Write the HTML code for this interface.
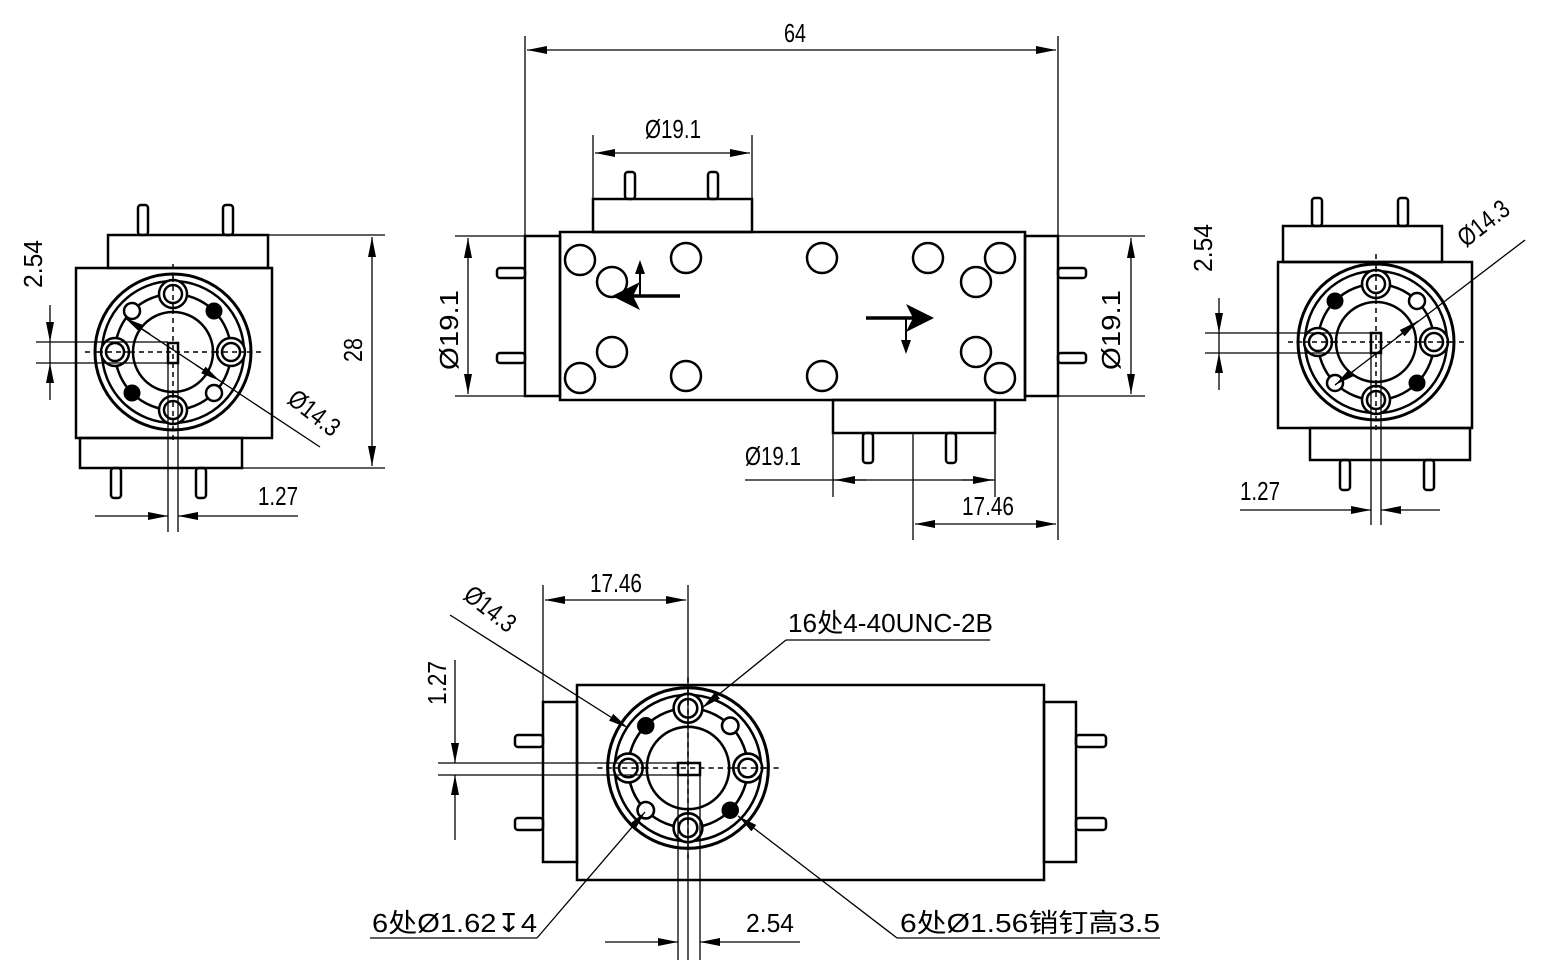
<!DOCTYPE html>
<html><head><meta charset="utf-8"><style>
html,body{margin:0;padding:0;background:#fff}
svg{display:block}
text{font-family:"Liberation Sans","Noto Sans CJK SC",sans-serif;font-size:26px;fill:#000}
</style></head><body>
<svg width="1553" height="970" viewBox="0 0 1553 970" xmlns="http://www.w3.org/2000/svg">
<defs>
<marker id="a" viewBox="0 0 20 8" refX="20" refY="4" markerWidth="20" markerHeight="8" markerUnits="userSpaceOnUse" orient="auto-start-reverse"><path d="M0,0L20,4L0,8z" fill="#000"/></marker>
<g id="fl" stroke="#000">
<circle r="78" stroke-width="3" fill="#fff"/><circle r="71" stroke-width="2.5" fill="none"/>
<circle r="40" stroke-width="2.5" fill="none"/>
<circle r="58" stroke-width="2.5" fill="none"/>
<g stroke-width="1.5" stroke-dasharray="5 4" fill="none"><line x1="0" y1="-88" x2="0" y2="88"/><line x1="-88" y1="0" x2="88" y2="0"/></g>
<g stroke-width="2.5" fill="#fff"><circle cx="0" cy="-58" r="14"/><circle cx="0" cy="-58" r="9"/>
<circle cx="0" cy="58" r="14"/><circle cx="0" cy="58" r="9"/>
<circle cx="-58" cy="0" r="14"/><circle cx="-58" cy="0" r="9"/>
<circle cx="58" cy="0" r="14"/><circle cx="58" cy="0" r="9"/>
<circle cx="-41" cy="-41" r="8"/><circle cx="41" cy="41" r="8"/></g>
<circle cx="41" cy="-41" r="8" fill="#000" stroke-width="1"/><circle cx="-41" cy="41" r="8" fill="#000" stroke-width="1"/>
<g stroke-width="1.5" stroke-dasharray="5 4" fill="none"><line x1="0" y1="-75" x2="0" y2="-41"/><line x1="0" y1="41" x2="0" y2="75"/><line x1="-75" y1="0" x2="-41" y2="0"/><line x1="41" y1="0" x2="75" y2="0"/></g>
</g>
</defs>
<g fill="none" stroke="#000" stroke-width="2.5">
<rect x="108" y="235" width="160" height="33"/>
<rect x="76" y="268" width="196" height="170"/>
<rect x="80" y="438" width="162" height="30"/>
<rect x="138" y="205" width="10" height="30" rx="3"/><rect x="223" y="205" width="10" height="30" rx="3"/>
<rect x="111" y="468" width="10" height="30" rx="3"/><rect x="196" y="468" width="10" height="30" rx="3"/>
<use href="#fl" x="173" y="352"/>
<rect x="168" y="343" width="10" height="20"/>
<rect x="560" y="232" width="465" height="168"/>
<rect x="525" y="236" width="35" height="160"/><rect x="1025" y="236" width="33" height="160"/>
<rect x="593" y="199" width="159" height="33"/><rect x="833" y="400" width="162" height="33"/>
<rect x="625" y="172" width="10" height="27" rx="3"/><rect x="708" y="172" width="10" height="27" rx="3"/>
<rect x="863" y="433" width="10" height="30" rx="3"/><rect x="946" y="433" width="10" height="30" rx="3"/>
<rect x="497" y="268" width="28" height="10" rx="3"/><rect x="497" y="353" width="28" height="10" rx="3"/>
<rect x="1058" y="268" width="28" height="10" rx="3"/><rect x="1058" y="353" width="28" height="10" rx="3"/>
<circle cx="580" cy="260" r="15"/><circle cx="686" cy="258" r="15"/><circle cx="822" cy="258" r="15"/><circle cx="928" cy="258" r="15"/><circle cx="1000" cy="258" r="15"/>
<circle cx="612" cy="282" r="15"/><circle cx="976" cy="282" r="15"/>
<circle cx="612" cy="352" r="15"/><circle cx="976" cy="352" r="15"/>
<circle cx="580" cy="378" r="15"/><circle cx="686" cy="376" r="15"/><circle cx="822" cy="376" r="15"/><circle cx="1000" cy="378" r="15"/>
<rect x="1283" y="226" width="159" height="36"/>
<rect x="1278" y="262" width="194" height="166"/>
<rect x="1310" y="428" width="160" height="32"/>
<rect x="1312" y="198" width="10" height="28" rx="3"/><rect x="1398" y="198" width="10" height="28" rx="3"/>
<rect x="1340" y="460" width="10" height="30" rx="3"/><rect x="1424" y="460" width="10" height="30" rx="3"/>
<use href="#fl" transform="translate(1376,342) scale(-1,1)"/>
<rect x="1371" y="333" width="10" height="20"/>
<rect x="577" y="685" width="467" height="195"/>
<rect x="543" y="702" width="34" height="160"/><rect x="1044" y="702" width="32" height="160"/>
<rect x="515" y="735" width="28" height="12" rx="3"/><rect x="515" y="818" width="28" height="12" rx="3"/>
<rect x="1076" y="735" width="30" height="12" rx="3"/><rect x="1076" y="818" width="30" height="12" rx="3"/>
<use href="#fl" transform="translate(688,768) scale(1.03) rotate(90)"/>
<rect x="678" y="763" width="22" height="12"/>
</g>
<g stroke="#000" stroke-width="3.5" fill="none">
<line x1="680" y1="296" x2="630" y2="296"/>
<line x1="866" y1="318" x2="915" y2="318"/>
</g>
<path d="M612,296 L640,282 L633,296 L640,310z" fill="#000"/>
<path d="M934,318 L906,304 L913,318 L906,332z" fill="#000"/>
<g stroke="#000" stroke-width="2" fill="none">
<line x1="640" y1="296" x2="640" y2="272"/>
<line x1="906" y1="318" x2="906" y2="342"/>
</g>
<path d="M640,260 L635,274 L645,274z" fill="#000"/>
<path d="M906,354 L901,340 L911,340z" fill="#000"/>
<g stroke="#000" stroke-width="1.3" fill="none">
<line x1="525" y1="36" x2="525" y2="236"/><line x1="1058" y1="36" x2="1058" y2="540"/>
<line x1="527" y1="50" x2="1056" y2="50" marker-start="url(#a)" marker-end="url(#a)"/>
<line x1="593" y1="135" x2="593" y2="199"/><line x1="752" y1="135" x2="752" y2="199"/>
<line x1="595" y1="153" x2="750" y2="153" marker-start="url(#a)" marker-end="url(#a)"/>
<line x1="455" y1="236" x2="525" y2="236"/><line x1="455" y1="396" x2="525" y2="396"/>
<line x1="468" y1="238" x2="468" y2="394" marker-start="url(#a)" marker-end="url(#a)"/>
<line x1="1058" y1="236" x2="1145" y2="236"/><line x1="1058" y1="396" x2="1145" y2="396"/>
<line x1="1131" y1="238" x2="1131" y2="394" marker-start="url(#a)" marker-end="url(#a)"/>
<line x1="833" y1="433" x2="833" y2="497"/><line x1="995" y1="433" x2="995" y2="497"/>
<line x1="745" y1="480" x2="995" y2="480"/>
<line x1="835" y1="480" x2="866" y2="480" marker-start="url(#a)"/>
<line x1="993" y1="480" x2="962" y2="480" marker-start="url(#a)"/>
<line x1="913" y1="433" x2="913" y2="540"/>
<line x1="915" y1="524" x2="1056" y2="524" marker-start="url(#a)" marker-end="url(#a)"/>
<line x1="268" y1="235" x2="385" y2="235"/><line x1="242" y1="468" x2="385" y2="468"/>
<line x1="372" y1="237" x2="372" y2="466" marker-start="url(#a)" marker-end="url(#a)"/>
<line x1="36" y1="342" x2="168" y2="342"/><line x1="36" y1="363" x2="168" y2="363"/>
<line x1="50" y1="305" x2="50" y2="342" marker-end="url(#a)"/><line x1="50" y1="400" x2="50" y2="363" marker-end="url(#a)"/><line x1="50" y1="342" x2="50" y2="363"/>
<line x1="168" y1="363" x2="168" y2="532"/><line x1="178" y1="363" x2="178" y2="532"/>
<line x1="95" y1="516" x2="168" y2="516" marker-end="url(#a)"/><line x1="298" y1="516" x2="178" y2="516" marker-end="url(#a)"/>
<line x1="125" y1="318" x2="320" y2="447"/>
<line x1="150" y1="334" x2="125" y2="318" marker-end="url(#a)"/><line x1="196" y1="365" x2="220" y2="381" marker-end="url(#a)"/>
<line x1="1205" y1="333" x2="1371" y2="333"/><line x1="1205" y1="353" x2="1371" y2="353"/>
<line x1="1219" y1="298" x2="1219" y2="333" marker-end="url(#a)"/><line x1="1219" y1="390" x2="1219" y2="353" marker-end="url(#a)"/><line x1="1219" y1="333" x2="1219" y2="353"/>
<line x1="1371" y1="353" x2="1371" y2="525"/><line x1="1381" y1="353" x2="1381" y2="525"/>
<line x1="1240" y1="510" x2="1371" y2="510" marker-end="url(#a)"/><line x1="1440" y1="510" x2="1381" y2="510" marker-end="url(#a)"/>
<line x1="1335" y1="385" x2="1525" y2="240"/>
<line x1="1355" y1="370" x2="1335" y2="385" marker-end="url(#a)"/><line x1="1396" y1="338" x2="1418" y2="321" marker-end="url(#a)"/>
<line x1="543" y1="585" x2="543" y2="702"/><line x1="688" y1="585" x2="688" y2="960"/>
<line x1="545" y1="600" x2="686" y2="600" marker-start="url(#a)" marker-end="url(#a)"/>
<line x1="438" y1="763" x2="678" y2="763"/><line x1="438" y1="775" x2="678" y2="775"/>
<line x1="455" y1="660" x2="455" y2="763" marker-end="url(#a)"/><line x1="455" y1="840" x2="455" y2="775" marker-end="url(#a)"/>
<line x1="678" y1="775" x2="678" y2="960"/><line x1="700" y1="775" x2="700" y2="960"/>
<line x1="605" y1="942" x2="678" y2="942" marker-end="url(#a)"/><line x1="800" y1="942" x2="700" y2="942" marker-end="url(#a)"/>
<line x1="450" y1="615" x2="628" y2="728" marker-end="url(#a)"/>
<line x1="786" y1="640" x2="990" y2="640"/><line x1="786" y1="640" x2="702" y2="708" marker-end="url(#a)"/>
<line x1="537" y1="938" x2="645" y2="812" marker-end="url(#a)"/>
<line x1="897" y1="938" x2="738" y2="816" marker-end="url(#a)"/>
<line x1="370" y1="938" x2="537" y2="938"/><line x1="897" y1="938" x2="1160" y2="938"/>
</g>
<text x="784" y="42" textLength="22" lengthAdjust="spacingAndGlyphs">64</text>
<text x="645" y="138" textLength="56" lengthAdjust="spacingAndGlyphs">Ø19.1</text>
<text x="745" y="465" textLength="56" lengthAdjust="spacingAndGlyphs">Ø19.1</text>
<text x="962" y="515" textLength="52" lengthAdjust="spacingAndGlyphs">17.46</text>
<text transform="translate(458,370) rotate(-90)" textLength="80" lengthAdjust="spacingAndGlyphs">Ø19.1</text>
<text transform="translate(1120,370) rotate(-90)" textLength="80" lengthAdjust="spacingAndGlyphs">Ø19.1</text>
<text transform="translate(362,362) rotate(-90)" textLength="24" lengthAdjust="spacingAndGlyphs">28</text>
<text transform="translate(42,288) rotate(-90)" textLength="48" lengthAdjust="spacingAndGlyphs">2.54</text>
<text transform="translate(1212,272) rotate(-90)" textLength="48" lengthAdjust="spacingAndGlyphs">2.54</text>
<text x="258" y="505" textLength="40" lengthAdjust="spacingAndGlyphs">1.27</text>
<text x="1240" y="500" textLength="40" lengthAdjust="spacingAndGlyphs">1.27</text>
<text transform="translate(286,402) rotate(38)" textLength="58" lengthAdjust="spacingAndGlyphs">Ø14.3</text>
<text transform="translate(1466,248) rotate(-38)" textLength="58" lengthAdjust="spacingAndGlyphs">Ø14.3</text>
<text transform="translate(462,598) rotate(38)" textLength="58" lengthAdjust="spacingAndGlyphs">Ø14.3</text>
<text x="590" y="592" textLength="52" lengthAdjust="spacingAndGlyphs">17.46</text>
<text transform="translate(446,705) rotate(-90)" textLength="44" lengthAdjust="spacingAndGlyphs">1.27</text>
<text x="788" y="632" textLength="205" lengthAdjust="spacingAndGlyphs">16处4-40UNC-2B</text>
<text x="372" y="932" textLength="165" lengthAdjust="spacingAndGlyphs">6处Ø1.62↧4</text>
<text x="746" y="932" textLength="48" lengthAdjust="spacingAndGlyphs">2.54</text>
<text x="900" y="932" textLength="260" lengthAdjust="spacingAndGlyphs">6处Ø1.56销钉高3.5</text>
</svg>
</body></html>
